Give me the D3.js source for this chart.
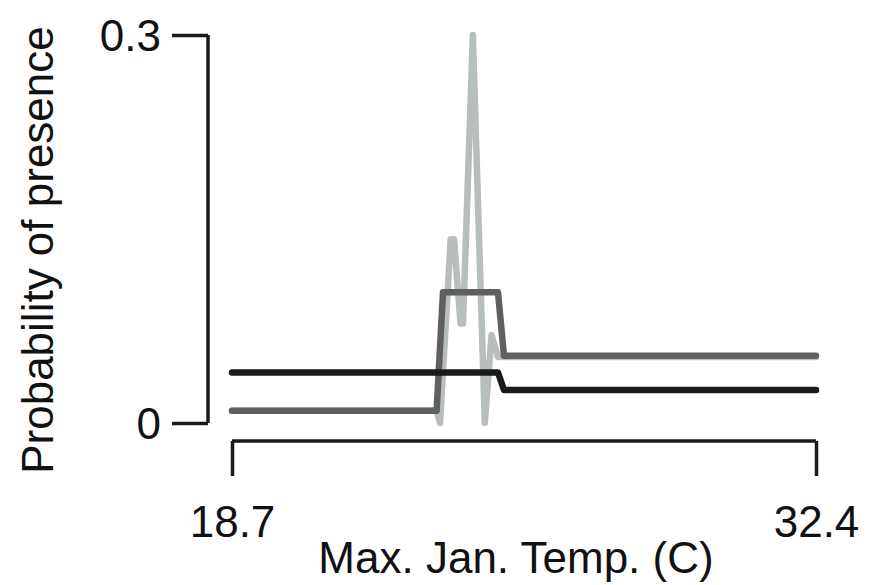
<!DOCTYPE html>
<html>
<head>
<meta charset="utf-8">
<script src="https://cdn.jsdelivr.net/npm/d3@7"></script>
<style>
  html, body { margin: 0; padding: 0; background: #fff; }
  svg { display: block; }
  text { font-family: "Liberation Sans", Arial, Helvetica, sans-serif; fill: #111; }
</style>
</head>
<body>
<svg id="chart" width="875" height="585"></svg>
<script>
// ---- data ----
const xDomain = [18.7, 32.4];
const yDomain = [0, 0.3];
const xTickLabels = ["18.7", "32.4"];
const yTickValues = [0, 0.3];
const yTickLabels = ["0", "0.3"];
const xTitle = "Max. Jan. Temp. (C)";
const yTitle = "Probability of presence";

// light gray (spiky) curve
const lightX = [18.7, 23.50, 23.58, 23.83, 23.91, 24.06, 24.12, 24.35, 24.63, 24.79, 24.94, 32.4];
const lightY = [0.0095, 0.0095, 0, 0.142, 0.142, 0.077, 0.077, 0.3, 0, 0.068, 0.051, 0.051];
// dark gray step curve
const darkX = [18.7, 23.50, 23.65, 24.94, 25.08, 32.4];
const darkY = [0.0095, 0.0095, 0.101, 0.101, 0.052, 0.052];
// black step curve
const blackX = [18.7, 24.94, 25.08, 32.4];
const blackY = [0.039, 0.039, 0.0255, 0.0255];

// ---- drawing ----
const svg = d3.select("#chart");
const x = d3.scaleLinear().domain(xDomain).range([232, 816]);
const y = d3.scaleLinear().domain(yDomain).range([423, 35]);

const line = d3.line().x(d => x(d[0])).y(d => y(d[1]));
const zip = (a, b) => a.map((v, i) => [v, b[i]]);

const series = [
  { pts: zip(lightX, lightY), color: "#b7bfba", width: 6.5 },
  { pts: zip(darkX, darkY), color: "#5f5f5f", width: 6.5 },
  { pts: zip(blackX, blackY), color: "#1a1a1a", width: 6.5 }
];
series.forEach(s => {
  svg.append("path")
    .attr("d", line(s.pts))
    .attr("fill", "none")
    .attr("stroke", s.color)
    .attr("stroke-width", s.width)
    .attr("stroke-linejoin", "round")
    .attr("stroke-linecap", "round");
});

// y axis
const yAxis = d3.axisLeft(y).tickValues(yTickValues)
  .tickFormat((d, i) => yTickLabels[i]).tickSize(36).tickSizeOuter(0).tickPadding(11);
const gy = svg.append("g").attr("transform", "translate(208,0)").call(yAxis);
gy.select(".domain").attr("stroke", "#1a1a1a").attr("stroke-width", 3.5).attr("d", `M0,${y(0)}V${y(0.3)}`);
gy.selectAll(".tick line").attr("stroke", "#1a1a1a").attr("stroke-width", 3.5);
gy.selectAll(".tick text").attr("font-size", 44).attr("font-family", "Liberation Sans, Arial, sans-serif")
  .attr("fill", "#111").attr("dy", "0.36em");

// x axis
const xAxis = d3.axisBottom(x).tickValues(xDomain)
  .tickFormat((d, i) => xTickLabels[i]).tickSize(35).tickSizeOuter(0).tickPadding(30);
const gx = svg.append("g").attr("transform", "translate(0,441)").call(xAxis);
gx.select(".domain").attr("stroke", "#1a1a1a").attr("stroke-width", 3.5).attr("d", `M${x(xDomain[0])},0H${x(xDomain[1])}`);
gx.selectAll(".tick line").attr("stroke", "#1a1a1a").attr("stroke-width", 3.5);
gx.selectAll(".tick text").attr("font-size", 44).attr("font-family", "Liberation Sans, Arial, sans-serif")
  .attr("fill", "#111");

// titles
svg.append("text").attr("x", 516).attr("y", 573).attr("text-anchor", "middle")
  .attr("font-size", 44).text(xTitle);
svg.append("text").attr("transform", "translate(53,250) rotate(-90)").attr("text-anchor", "middle")
  .attr("font-size", 44).text(yTitle);
</script>
</body>
</html>
